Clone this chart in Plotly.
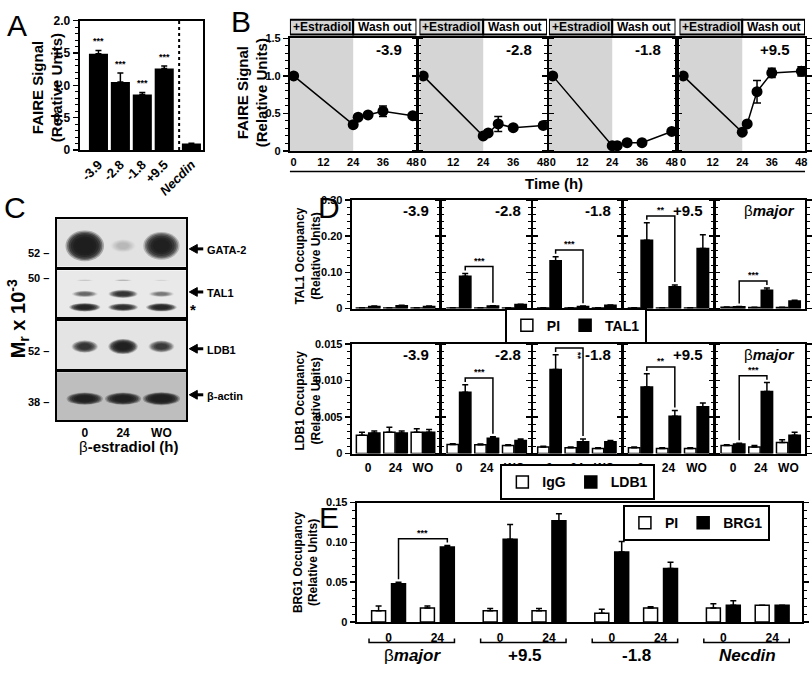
import plotly.graph_objects as go

W, H = 812, 675
FONT = "Liberation Sans, Arial, Helvetica, sans-serif"

# ---------------- DATA ----------------
# Panel A : FAIRE signal
A_loci = ["-3.9", "-2.8", "-1.8", "+9.5", "Necdin"]
A_faire = [1.49, 1.05, 0.86, 1.26, 0.10]
A_faire_err = [0.05, 0.14, 0.03, 0.04, 0.005]
A_sig = ["***", "***", "***", "***", ""]

# Panel B : FAIRE time course
B_loci = ["-3.9", "-2.8", "-1.8", "+9.5"]
B_time = [0, 24, 26, 30, 36, 48]
B_faire_m39 = [1.00, 0.35, 0.45, 0.48, 0.53, 0.47]
B_err_m39 = [0.01, 0.03, 0.02, 0.02, 0.07, 0.02]
B_faire_m28 = [1.00, 0.20, 0.24, 0.36, 0.31, 0.34]
B_err_m28 = [0.01, 0.02, 0.02, 0.10, 0.02, 0.04]
B_faire_m18 = [1.00, 0.07, 0.07, 0.11, 0.11, 0.26]
B_err_m18 = [0.01, 0.02, 0.02, 0.02, 0.02, 0.02]
B_faire_p95 = [1.00, 0.25, 0.36, 0.79, 1.04, 1.06]
B_err_p95 = [0.01, 0.02, 0.03, 0.15, 0.06, 0.06]
B_ticks = [0, 12, 24, 36, 48]

# Panel C : western blot band intensities (0..1) per lane
C_lanes = ["0", "24", "WO"]
C_blots = ["GATA-2", "TAL1", "LDB1", "β-actin"]
C_markers = ["52", "50", "52", "38"]
C_GATA2 = [1.00, 0.12, 0.85]
C_TAL1_upper = [0.10, 0.15, 0.07]
C_TAL1 = [0.35, 0.60, 0.30]
C_TAL1_star = [0.75, 0.65, 0.72]
C_LDB1 = [0.60, 0.85, 0.55]
C_bactin = [0.85, 0.85, 0.92]

# Panel D : ChIP occupancy
D_loci = ["-3.9", "-2.8", "-1.8", "+9.5", "βmajor"]
D_times = ["0", "24", "WO"]
D_PI = [[0.002, 0.002, 0.002], [0.002, 0.002, 0.002], [0.002, 0.002, 0.002],
        [0.002, 0.002, 0.002], [0.004, 0.003, 0.003]]
D_PI_err = [[0.0005, 0.0005, 0.0005], [0.0005, 0.0005, 0.0005], [0.0005, 0.0005, 0.0005],
            [0.0005, 0.0005, 0.0005], [0.0005, 0.0005, 0.0005]]
D_TAL1 = [[0.006, 0.008, 0.006], [0.089, 0.007, 0.011], [0.132, 0.006, 0.009],
          [0.189, 0.060, 0.166], [0.005, 0.051, 0.021]]
D_TAL1_err = [[0.001, 0.001, 0.001], [0.008, 0.001, 0.001], [0.011, 0.001, 0.001],
              [0.048, 0.005, 0.038], [0.001, 0.006, 0.002]]
D_IgG = [[0.0025, 0.0029, 0.0029], [0.00125, 0.0012, 0.0011], [0.0009, 0.0008, 0.0007],
         [0.0008, 0.0007, 0.0007], [0.0011, 0.0009, 0.0015]]
D_IgG_err = [[0.0004, 0.0007, 0.0005], [0.0001, 0.0001, 0.0001], [0.0001, 0.0001, 0.0001],
             [0.0001, 0.0001, 0.0001], [0.0001, 0.0002, 0.0004]]
D_LDB1 = [[0.0028, 0.0028, 0.0029], [0.0084, 0.0021, 0.0018], [0.0115, 0.0016, 0.0016],
          [0.0091, 0.0051, 0.0064], [0.0013, 0.0085, 0.0025]]
D_LDB1_err = [[0.0003, 0.0003, 0.0004], [0.0010, 0.0002, 0.0002], [0.0020, 0.0004, 0.0002],
              [0.0018, 0.0008, 0.0005], [0.0001, 0.0012, 0.0004]]
D_TAL1_sig = [(1, 0, 1, "***"), (2, 0, 1, "***"), (3, 0, 1, "**"), (4, 0, 1, "***")]
D_LDB1_sig = [(1, 0, 1, "***"), (2, 0, 1, "**"), (3, 0, 1, "**"), (4, 0, 1, "***")]

# Panel E : BRG1 occupancy
E_loci = ["βmajor", "+9.5", "-1.8", "Necdin"]
E_times = ["0", "24"]
E_PI = [[0.014, 0.0175], [0.014, 0.014], [0.011, 0.0175], [0.0175, 0.021]]
E_PI_err = [[0.006, 0.0025], [0.003, 0.003], [0.005, 0.0015], [0.0055, 0.0]]
E_BRG1 = [[0.048, 0.094], [0.104, 0.127], [0.088, 0.067], [0.021, 0.021]]
E_BRG1_err = [[0.002, 0.002], [0.0185, 0.009], [0.013, 0.008], [0.0055, 0.0]]
E_sig = [(0, 0, 1, "***")]

# ---------------- helpers ----------------
traces, shapes, annotations = [], [], []
layout = dict(width=W, height=H, margin=dict(l=0, r=0, t=0, b=0),
              paper_bgcolor="white", plot_bgcolor="white", barmode="overlay",
              hovermode=False, font=dict(family=FONT, color="black"))
_n = [0]


def new_axes(x0, x1, y0, y1, xa, ya):
    _n[0] += 1
    s = "" if _n[0] == 1 else str(_n[0])
    layout["xaxis" + s] = dict(domain=[x0 / W, x1 / W], anchor="y" + s, **xa)
    layout["yaxis" + s] = dict(domain=[1 - y1 / H, 1 - y0 / H], anchor="x" + s, **ya)
    return "x" + s, "y" + s


def TF(size):
    return dict(family=FONT, size=size, color="black", weight="bold")


def base(**kw):
    d = dict(showline=True, linecolor="black", linewidth=2, mirror=True, showgrid=False,
             zeroline=False, ticks="", showticklabels=False, fixedrange=True, tickfont=TF(11))
    d.update(kw)
    return d


def ycfg(vals, texts, minor, labels, size=11):
    return dict(tickmode="array", tickvals=vals, ticktext=texts, ticks="outside", ticklen=5,
                tickwidth=1.5, tickcolor="black", showticklabels=labels, tickfont=TF(size),
                minor=dict(tick0=0, dtick=minor, ticks="outside", ticklen=3, tickwidth=1,
                           tickcolor="black"))


def locus_html(name):
    if name == "βmajor":
        return "β<b><i>major</i></b>"
    if name == "Necdin":
        return "<b><i>Necdin</i></b>"
    return "<b>%s</b>" % name


def ann(**kw):
    d = dict(showarrow=False, xanchor="center", yanchor="middle",
             font=dict(family=FONT, size=12, color="black"))
    d.update(kw)
    annotations.append(d)


def T(xp, yp, text, size, **kw):
    ann(x=xp / W, y=1 - yp / H, xref="paper", yref="paper", text=text,
        font=dict(family=FONT, size=size, color="black"), **kw)


def err(arr):
    return dict(type="data", symmetric=False, array=arr, arrayminus=[0] * len(arr),
                color="black", thickness=1.5, width=3)


def bracket(xr, yr, x1, x2, b1, b2, pxu, label, vertical=False):
    gap, pad = 3 / pxu, 7 / pxu
    lvl = max(b1, b2) + pad
    traces.append(go.Scatter(x=[x1, x1, x2, x2], y=[b1 + gap, lvl, lvl, b2 + gap], mode="lines",
                             line=dict(color="black", width=1.5), xaxis=xr, yaxis=yr,
                             showlegend=False, hoverinfo="skip"))
    if vertical:
        ann(x=x2, y=lvl, xref=xr, yref=yr, text="<b>%s</b>" % label, textangle=90,
            yanchor="top", xshift=-5, yshift=-2, font=dict(family=FONT, size=9, color="black"))
    else:
        ann(x=(x1 + x2) / 2, y=lvl, xref=xr, yref=yr, text="<b>%s</b>" % label,
            yanchor="bottom", yshift=-1, font=dict(family=FONT, size=9, color="black"))


# ---------------- Panel A ----------------
A_xpos = [i + (0.24 if loc == "Necdin" else 0.0) for i, loc in enumerate(A_loci)]
ax, ay = new_axes(79, 203, 14, 146,
                  base(range=[-0.855, 4.78], tickmode="array", tickvals=A_xpos,
                       ticktext=[locus_html(l) for l in A_loci], showticklabels=True,
                       tickangle=-45, tickfont=TF(13)),
                  base(range=[0, 2.0], **ycfg([0, 0.5, 1.0, 1.5, 2.0], ["0", "0.5", "1.0", "1.5", "2.0"],
                                              0.1, True, 12)))
traces.append(go.Bar(x=A_xpos, y=A_faire, width=0.87, marker=dict(color="black", line=dict(width=0)),
                     error_y=err(A_faire_err), xaxis=ax, yaxis=ay, showlegend=False))
sep = (A_xpos[3] + A_xpos[4]) / 2 + 0.06
shapes.append(dict(type="line", xref=ax, yref=ay + " domain", x0=sep, x1=sep, y0=0, y1=1,
                   line=dict(color="black", width=2, dash="dot")))
for xv, v, e, s in zip(A_xpos, A_faire, A_faire_err, A_sig):
    if s:
        ann(x=xv, y=v + e, xref=ax, yref=ay, text="<b>%s</b>" % s, yanchor="bottom", yshift=2,
            font=dict(family=FONT, size=9, color="black"))
T(46, 82, "<b>FAIRE Signal<br>(Relative Units)</b>", 15, textangle=-90)
T(16, 19, "A", 30)

# ---------------- Panel B ----------------
B_series = [(B_faire_m39, B_err_m39), (B_faire_m28, B_err_m28), (B_faire_m18, B_err_m18),
            (B_faire_p95, B_err_p95)]
B_xdom = [(290, 417), (420, 548), (550, 677), (681, 807)]
for i, (loc, (vals, errs), (x0, x1)) in enumerate(zip(B_loci, B_series, B_xdom)):
    bx, by = new_axes(x0, x1, 32, 147,
                      base(range=[-1.5, 49.5], tickmode="array", tickvals=B_ticks,
                           ticktext=[str(t) for t in B_ticks], showticklabels=True, tickfont=TF(11)),
                      base(range=[0, 1.5], mirror="allticks",
                           **ycfg([0, 0.5, 1.0, 1.5], ["0", "0.5", "1.0", "1.5"], 0.1, i == 0, 11)))
    shapes.append(dict(type="rect", xref=bx, yref=by + " domain", x0=-1.5, x1=24, y0=0, y1=1,
                       fillcolor="#d5d5d5", line=dict(width=0), layer="below"))
    shapes.append(dict(type="rect", xref=bx, yref="paper", x0=-1.5, x1=24, y0=1 - 28 / H, y1=1 - 13 / H,
                       fillcolor="#d5d5d5", line=dict(color="black", width=2)))
    shapes.append(dict(type="rect", xref=bx, yref="paper", x0=24, x1=49.5, y0=1 - 28 / H, y1=1 - 13 / H,
                       fillcolor="white", line=dict(color="black", width=2)))
    ann(x=11.25, y=1 - 20.5 / H, xref=bx, yref="paper", text="<b>+Estradiol</b>",
        font=dict(family=FONT, size=12, color="black"))
    ann(x=36.75, y=1 - 20.5 / H, xref=bx, yref="paper", text="<b>Wash out</b>",
        font=dict(family=FONT, size=12, color="black"))
    ann(x=0.9, y=1 - 43 / H, xref=bx + " domain", yref="paper", text=locus_html(loc), xanchor="right",
        font=dict(family=FONT, size=15, color="black"))
    traces.append(go.Scatter(x=B_time, y=vals, mode="lines+markers",
                             line=dict(color="black", width=1.5),
                             marker=dict(color="black", size=11),
                             error_y=dict(type="data", array=errs, color="black", thickness=1.5, width=4),
                             xaxis=bx, yaxis=by, showlegend=False))
shapes.append(dict(type="line", xref="paper", yref="paper", x0=290 / W, x1=807 / W,
                   y0=1 - 168 / H, y1=1 - 168 / H, line=dict(color="black", width=1.5)))
T(555, 180, "<b>Time (h)</b>", 15)
T(252, 88, "<b>FAIRE Signal<br>(Relative Units)</b>", 15, textangle=-90)
T(241, 15, "B", 30)

# ---------------- Panel C (western blots) ----------------
C_box_y = [(217, 265), (269, 317), (321, 370), (373, 422)]
C_bg = ["#e2e2e2", "#e9e9e9", "#e4e4e4", "#bebebe"]
# band rows per blot: (vertical centre, width, height, intensities)
C_rows = [[(0.44, 0.95, 0.62, C_GATA2)],
          [(0.79, 0.70, 0.08, C_TAL1_upper), (0.50, 0.85, 0.22, C_TAL1), (0.215, 0.85, 0.20, C_TAL1_star)],
          [(0.475, 0.77, 0.33, C_LDB1)],
          [(0.45, 0.95, 0.27, C_bactin)]]
C_marker_y = [251, 277, 351, 403]
C_arrow_y = [247, 291, 349, 396]
lanes = list(range(len(C_lanes)))
blur = [(1.06, 0.30), (0.97, 0.45), (0.88, 0.55), (0.77, 0.65), (0.64, 0.75), (0.5, 0.8)]
for b, ((y0, y1), bg, rows) in enumerate(zip(C_box_y, C_bg, C_rows)):
    last = b == len(C_box_y) - 1
    cx, cy = new_axes(56, 186, y0, y1,
                      base(range=[-0.73, 2.65], tickmode="array", tickvals=lanes, ticktext=C_lanes,
                           showticklabels=last, tickfont=TF(12)),
                      base(range=[0, 1]))
    traces.append(go.Scatter(x=lanes, y=[0.5] * len(lanes), mode="markers", marker=dict(opacity=0),
                             xaxis=cx, yaxis=cy, showlegend=False, hoverinfo="skip"))
    shapes.append(dict(type="rect", xref=cx + " domain", yref=cy + " domain", x0=0, x1=1, y0=0, y1=1,
                       fillcolor=bg, line=dict(width=0), layer="below"))
    for (yc, w0, h0, inten) in rows:
        for ln, I in zip(lanes, inten):
            w = w0 * (0.6 + 0.4 * I)
            h = h0 * (0.35 + 0.65 * I)
            for sc, a in blur:
                shapes.append(dict(type="circle", xref=cx, yref=cy, x0=ln - w * sc / 2, x1=ln + w * sc / 2,
                                   y0=yc - h * sc / 2, y1=yc + h * sc / 2,
                                   fillcolor="rgba(30,30,30,%.3f)" % (a * I ** 1.3), line=dict(width=0),
                                   layer="below"))
    T(50, C_marker_y[b], "<b>%s –</b>" % C_markers[b], 11, xanchor="right")
    ya_ = 1 - C_arrow_y[b] / H
    hx, hb, tl = 189 / W, 197 / W, 203 / W
    hh = 4.5 / H
    shapes.append(dict(type="path", xref="paper", yref="paper",
                       path="M %f,%f L %f,%f L %f,%f Z" % (hx, ya_, hb, ya_ + hh, hb, ya_ - hh),
                       fillcolor="black", line=dict(color="black", width=1)))
    shapes.append(dict(type="line", xref="paper", yref="paper", x0=hb - 1 / W, x1=tl, y0=ya_, y1=ya_,
                       line=dict(color="black", width=3)))
    T(205, C_arrow_y[b] + 1, "<b>%s</b>" % C_blots[b], 11, xanchor="left")
T(193, 309, "<b>*</b>", 15)
T(128, 449, "β<b>-estradiol (h)</b>", 15)
T(17, 318, "<b>M<sub>r</sub> x 10<sup>-3</sup></b>", 20, textangle=-90)
T(14, 205, "C", 30)

# ---------------- Panel D ----------------
D_xdom = [(352, 440), (443, 532), (534, 622), (625, 715), (718, 807)]
D_rows = [
    dict(y=(197, 308), ctl=D_PI, ctl_err=D_PI_err, ab=D_TAL1, ab_err=D_TAL1_err, names=("PI", "TAL1"),
         yr=[0, 0.30], tv=[0, 0.1, 0.2, 0.3], tt=["0", "0.10", "0.20", "0.30"], minor=0.02,
         legend="legend", sig=D_TAL1_sig, xlab=False, lab_y=208, vert=()),
    dict(y=(344, 456), ctl=D_IgG, ctl_err=D_IgG_err, ab=D_LDB1, ab_err=D_LDB1_err, names=("IgG", "LDB1"),
         yr=[0, 0.015], tv=[0, 0.005, 0.010, 0.015], tt=["0", "0.005", "0.010", "0.015"], minor=0.001,
         legend="legend2", sig=D_LDB1_sig, xlab=True, lab_y=355, vert=(2,)),
]
gpos = list(range(len(D_times)))
for row in D_rows:
    y0, y1 = row["y"]
    pxu = (y1 - y0) / row["yr"][1]
    axes_ids = []
    for p, (loc, (x0, x1)) in enumerate(zip(D_loci, D_xdom)):
        dx, dy = new_axes(x0, x1, y0, y1,
                          base(range=[-0.6, 2.6], tickmode="array", tickvals=gpos, ticktext=D_times,
                               showticklabels=row["xlab"], tickfont=TF(12), ticklabelstandoff=2),
                          base(range=row["yr"], mirror="allticks",
                               **ycfg(row["tv"], row["tt"], row["minor"], p == 0, 11)))
        axes_ids.append((dx, dy))
        traces.append(go.Bar(x=gpos, y=row["ctl"][p], width=0.41, offset=-0.43, name=row["names"][0],
                             marker=dict(color="white", line=dict(color="black", width=1.5)),
                             error_y=err(row["ctl_err"][p]), xaxis=dx, yaxis=dy,
                             showlegend=(p == 0), legend=row["legend"]))
        traces.append(go.Bar(x=gpos, y=row["ab"][p], width=0.41, offset=0.02, name=row["names"][1],
                             marker=dict(color="black", line=dict(color="black", width=1.5)),
                             error_y=err(row["ab_err"][p]), xaxis=dx, yaxis=dy,
                             showlegend=(p == 0), legend=row["legend"]))
        ann(x=0.91, y=1 - row["lab_y"] / H, xref=dx + " domain", yref="paper", text=locus_html(loc),
            xanchor="right", font=dict(family=FONT, size=15, color="black"))
    for (p, g1, g2, lab) in row["sig"]:
        dx, dy = axes_ids[p]
        b1 = row["ab"][p][g1] + row["ab_err"][p][g1]
        b2 = row["ab"][p][g2] + row["ab_err"][p][g2]
        bracket(dx, dy, g1 + 0.225, g2 + 0.225, b1, b2, pxu, lab, vertical=(p in row["vert"]))
T(308, 254, "<b>TAL1 Occupancy<br>(Relative Units)</b>", 12, textangle=-90)
T(308, 402, "<b>LDB1 Occupancy<br>(Relative Units)</b>", 12, textangle=-90)
T(329, 205, "D", 30)

# ---------------- Panel E ----------------
E_step = 2.286
E_gx = [k * E_step + t for k in range(len(E_loci)) for t in range(len(E_times))]
ex, ey = new_axes(357, 804, 506, 628,
                  base(range=[-0.653, 8.47], tickmode="array", tickvals=E_gx,
                       ticktext=E_times * len(E_loci), showticklabels=True, tickfont=TF(12),
                       ticklabelstandoff=4),
                  base(range=[0, 0.15], mirror="allticks",
                       **ycfg([0, 0.05, 0.10, 0.15], ["0", "0.05", "0.10", "0.15"], 0.01, True, 11)))
flat = lambda a: [v for grp in a for v in grp]
traces.append(go.Bar(x=E_gx, y=flat(E_PI), width=0.286, offset=-0.347, name="PI",
                     marker=dict(color="white", line=dict(color="black", width=1.5)),
                     error_y=err(flat(E_PI_err)), xaxis=ex, yaxis=ey, legend="legend3"))
traces.append(go.Bar(x=E_gx, y=flat(E_BRG1), width=0.286, offset=0.061, name="BRG1",
                     marker=dict(color="black", line=dict(color="black", width=1.5)),
                     error_y=err(flat(E_BRG1_err)), xaxis=ex, yaxis=ey, legend="legend3"))
for (k, t1, t2, lab) in E_sig:
    b1 = E_BRG1[k][t1] + E_BRG1_err[k][t1]
    b2 = E_BRG1[k][t2] + E_BRG1_err[k][t2]
    bracket(ex, ey, k * E_step + t1 + 0.204, k * E_step + t2 + 0.204, b1, b2, 122 / 0.15, lab)
for k, loc in enumerate(E_loci):
    xa_, xb_ = k * E_step - 0.4, k * E_step + 1.35
    yl, yb = 1 - 649 / H, 1 - 645 / H
    shapes.append(dict(type="path", xref=ex, yref="paper",
                       path="M %f,%f L %f,%f L %f,%f L %f,%f" % (xa_, yb, xa_, yl, xb_, yl, xb_, yb),
                       line=dict(color="black", width=1.5)))
    ann(x=k * E_step + 0.5, y=1 - 662 / H, xref=ex, yref="paper", text=locus_html(loc),
        font=dict(family=FONT, size=17, color="black"))
T(306, 567, "<b>BRG1 Occupancy<br>(Relative Units)</b>", 12, textangle=-90)
T(329, 521, "E", 30)

# ---------------- legends ----------------
def legend_cfg(xp, yp):
    return dict(x=xp / W, y=1 - yp / H, xanchor="center", yanchor="middle", orientation="h",
                bgcolor="white", bordercolor="black", borderwidth=2, itemwidth=30,
                font=dict(family=FONT, size=14, color="black", weight="bold"), itemclick=False)


layout["legend"] = legend_cfg(577, 325.5)
layout["legend2"] = legend_cfg(579, 485.5)
layout["legend3"] = legend_cfg(698, 527)
layout["shapes"] = shapes
layout["annotations"] = annotations

fig = go.Figure(data=traces, layout=layout)
fig.write_html("out.html", config={"staticPlot": True},
               post_script="document.body.style.margin='0px';document.body.style.overflow='hidden';")
